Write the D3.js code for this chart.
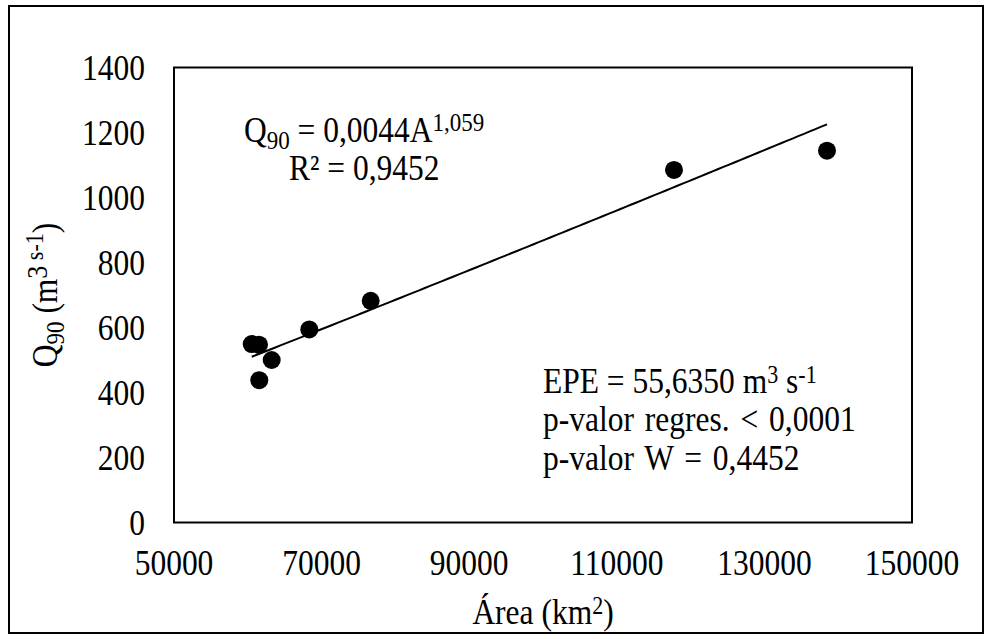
<!DOCTYPE html>
<html><head><meta charset="utf-8">
<script src="https://cdn.jsdelivr.net/npm/d3@7"></script>
<style>body{margin:0;background:#fff}svg{display:block}text{font-family:"Liberation Serif","Times New Roman","DejaVu Serif",serif;fill:#000}</style>
</head><body>
<svg id="c" width="992" height="639"></svg>
<script>
const area = [60528, 61518, 61558, 63238, 68333, 76653, 117750, 138482];
const q90 = [549, 547, 438, 500, 594, 682, 1085, 1144];
const xTicks = [50000, 70000, 90000, 110000, 130000, 150000];
const yTicks = [0, 200, 400, 600, 800, 1000, 1200, 1400];
const coefA = 0.0044, coefB = 1.059;
const statLines = ["EPE", "p-valor regres. < 0,0001", "p-valor W = 0,4452"];

const svg = d3.select("#c");
const L = 174, R = 912, T = 67.5, B = 522.5;
const x = d3.scaleLinear().domain([50000, 150000]).range([L, R]);
const y = d3.scaleLinear().domain([0, 1400]).range([B, T]);
const FS = 31.5, SY = 1.13;

// text helper: stretched vertically like the reference
function label(px, py, anchor, rot) {
  const g = svg.append("g").attr("transform", `translate(${px},${py})${rot ? " rotate(-90)" : ""} scale(1,${SY})`);
  return g.append("text").attr("text-anchor", anchor).attr("font-size", FS);
}

svg.append("rect").attr("x", 9).attr("y", 6).attr("width", 974).attr("height", 627)
  .attr("fill", "#fff").attr("stroke", "#000").attr("stroke-width", 2);

svg.append("rect").attr("x", L).attr("y", T).attr("width", R - L).attr("height", B - T)
  .attr("fill", "none").attr("stroke", "#000").attr("stroke-width", 2);

// axes via d3 scales (labels only)
const yAxis = svg.append("g").attr("transform", `translate(${L},0)`)
  .call(d3.axisLeft(y).tickValues(yTicks).tickSize(0).tickFormat(""));
yAxis.select(".domain").remove();
yTicks.forEach(v => label(145, y(v) + 12.2, "end").text(d3.format("d")(v)));

const xAxis = svg.append("g").attr("transform", `translate(0,${B})`)
  .call(d3.axisBottom(x).tickValues(xTicks).tickSize(0).tickFormat(""));
xAxis.select(".domain").remove();
xTicks.forEach(v => label(x(v), 575, "middle").text(d3.format("d")(v)));

// trendline (power fit)
const xmin = d3.min(area), xmax = d3.max(area);
const fitX = d3.range(0, 101).map(i => xmin + (xmax - xmin) * i / 100);
svg.append("path").datum(fitX)
  .attr("d", d3.line().x(d => x(d)).y(d => y(coefA * Math.pow(d, coefB))))
  .attr("fill", "none").attr("stroke", "#000").attr("stroke-width", 2);

// points
svg.append("g").selectAll("circle").data(area).join("circle")
  .attr("cx", d => x(d)).attr("cy", (d, i) => y(q90[i])).attr("r", 9).attr("fill", "#000");

// equation
const eq = label(244, 142, "start");
eq.append("tspan").text("Q");
eq.append("tspan").attr("font-size", 23).attr("dy", 6).text("90");
eq.append("tspan").attr("dy", -6).text(" = 0,0044A");
eq.append("tspan").attr("font-size", 23).attr("dy", -10).text("1,059");
label(289, 180, "start").text("R² = 0,9452");

// stats
const s1 = label(543, 393, "start");
s1.append("tspan").text(statLines[0] + " = 55,6350 m");
s1.append("tspan").attr("font-size", 22).attr("dy", -9).text("3");
s1.append("tspan").attr("dy", 9).text("  s");
s1.append("tspan").attr("font-size", 22).attr("dy", -9).text("-1");
label(543, 431, "start").attr("word-spacing", 3).text(statLines[1]);
label(543, 470, "start").attr("word-spacing", 3).text(statLines[2]);

// x title
const xt = label((L + R) / 2, 624, "middle");
xt.append("tspan").text("Área (km");
xt.append("tspan").attr("font-size", 22).attr("dy", -9).text("2");
xt.append("tspan").attr("dy", 9).text(")");

// y title
const yt = label(57, (T + B) / 2, "middle", true);
yt.append("tspan").text("Q");
yt.append("tspan").attr("font-size", 23).attr("dy", 6).text("90");
yt.append("tspan").attr("dy", -6).text(" (m");
yt.append("tspan").attr("font-size", 26).attr("dy", -9).text("3");
yt.append("tspan").attr("font-size", 22).attr("dy", -3).text(" s-1");
yt.append("tspan").attr("dy", 12).text(")");
</script>
</body></html>
